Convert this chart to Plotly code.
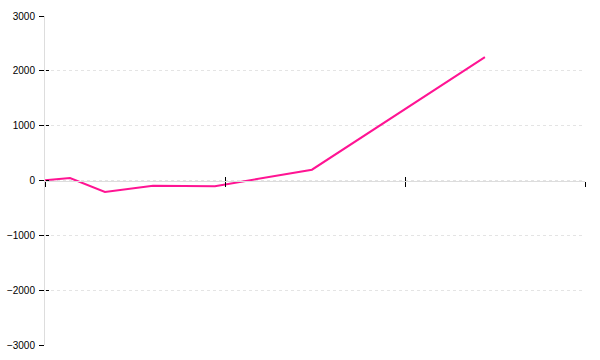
import plotly.graph_objects as go

x_values = [0, 0.139, 0.333, 0.6, 0.944, 1.483, 2.444]
y_values = [5, 45, -210, -95, -105, 197, 2250]
x_ticks = [0, 1, 2, 3]
y_ticks = [-3000, -2000, -1000, 0, 1000, 2000, 3000]
y_labels = ["\u22123000", "\u22122000", "\u22121000", "0", "1000", "2000", "3000"]

fig = go.Figure()
fig.add_trace(go.Scatter(x=x_values, y=y_values, mode="lines",
                         line=dict(color="#ff1493", width=2),
                         showlegend=False, hoverinfo="skip"))
fig.add_trace(go.Scatter(x=[], y=[], xaxis="x2", yaxis="y2", mode="lines",
                         showlegend=False, hoverinfo="skip"))

fig.update_layout(
    width=600, height=360,
    margin=dict(l=45, r=15, t=16, b=15, autoexpand=False),
    paper_bgcolor="white", plot_bgcolor="white",
    font=dict(family="Liberation Sans, Arial, sans-serif", size=10, color="#000"),
    xaxis=dict(range=[0, 3], tickvals=x_ticks, showticklabels=False,
               showgrid=False, zeroline=False, automargin=False,
               showline=True, linecolor="#dddddd", linewidth=1,
               ticks="outside", ticklen=5, tickcolor="#000", tickwidth=1,
               anchor="free", position=0.5),
    xaxis2=dict(range=[0, 3], tickvals=x_ticks, showticklabels=False,
                showgrid=False, zeroline=False, showline=False, automargin=False,
                ticks="inside", ticklen=4, tickcolor="#000", tickwidth=1,
                overlaying="x", anchor="free", position=0.5),
    yaxis=dict(range=[-3000, 3000], tickvals=y_ticks, ticktext=y_labels,
               showgrid=True, gridcolor="#e4e4e4", griddash="3px,3px",
               zeroline=False, automargin=False,
               showline=True, linecolor="#dddddd", linewidth=1,
               ticks="outside", ticklen=5, tickcolor="#000", tickwidth=1,
               ticklabelstandoff=2),
    yaxis2=dict(range=[-3000, 3000], tickvals=y_ticks, showticklabels=False,
                showgrid=False, zeroline=False, showline=False, automargin=False,
                ticks="inside", ticklen=3, tickcolor="#000", tickwidth=1,
                overlaying="y", anchor="free", position=0, side="left"),
)

fig.write_html("out.html")
